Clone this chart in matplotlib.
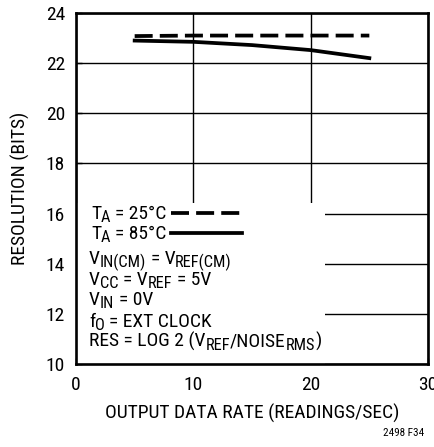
import matplotlib
matplotlib.use("Agg")
import matplotlib.pyplot as plt
from matplotlib.patches import Rectangle
from matplotlib.transforms import IdentityTransform
from matplotlib.font_manager import FontProperties
from matplotlib import font_manager

fams = {f.name for f in font_manager.fontManager.ttflist}
FONT = 'DejaVu Sans'
for cand in ['Liberation Sans Narrow', 'Arial Narrow', 'Roboto Condensed',
             'Archivo Narrow', 'Barlow Semi Condensed', 'Asap Condensed']:
    if cand in fams:
        FONT = cand
        break
plt.rcParams['font.family'] = [FONT, 'DejaVu Sans']

# data
rate = [5, 10, 15, 20, 25]
res_25c = [23.08, 23.1, 23.1, 23.1, 23.1]
res_85c = [22.9, 22.85, 22.72, 22.52, 22.2]
x_ticks = [0, 10, 20, 30]
y_ticks = [10, 12, 14, 16, 18, 20, 22, 24]

W, H = 435, 447
FS_TICK = 14
FS_LABEL = 14
FS_TEXT = 14
LW = 2.7
DASH = (4.8, 1.9)

fig = plt.figure(figsize=(W / 100, H / 100), dpi=100)
ax = fig.add_axes([76 / W, 83 / H, 352 / W, 351 / H])
ax.set_xlim(0, 30)
ax.set_ylim(10, 24)
ax.set_xticks(x_ticks)
ax.set_yticks(y_ticks)
ax.tick_params(direction='in', length=4, width=1, labelsize=FS_TICK)
ax.tick_params(axis='x', pad=9)
ax.tick_params(axis='y', pad=8)
ax.grid(True, color='black', linewidth=1)
ax.set_axisbelow(True)
for s in ax.spines.values():
    s.set_linewidth(1.9)
    s.set_zorder(5)

# white box covering grid in lower-left (behind the notes)
ax.add_patch(Rectangle((0, 10), 21.2, 6.44, facecolor='white', edgecolor='none', zorder=1))

ax.plot(rate, res_25c, color='black', lw=LW, dashes=DASH, zorder=3)
ax.plot(rate, res_85c, color='black', lw=LW, zorder=3)

ax.set_xlabel('OUTPUT DATA RATE (READINGS/SEC)', fontsize=FS_LABEL, labelpad=7)
ax.set_ylabel('RESOLUTION (BITS)', fontsize=FS_LABEL)
ax.yaxis.set_label_coords(-0.13, 0.5)


def yf(py):
    return (364 - py) / 351


def xf(px):
    return (px - 76) / 352


fig.canvas.draw()
renderer = fig.canvas.get_renderer()


def adv(s, size):
    prop = FontProperties(family=[FONT, 'DejaVu Sans'], size=size)
    w1 = renderer.get_text_width_height_descent('|' + s + '|', prop, ismath=False)[0]
    w0 = renderer.get_text_width_height_descent('||', prop, ismath=False)[0]
    return w1 - w0


def rich(x, baseline_px, segs):
    y = H - baseline_px
    for s, sub in segs:
        size = FS_TEXT * 0.84 if sub else FS_TEXT
        yy = y - 3.0 if sub else y
        lead = s[:len(s) - len(s.lstrip(' '))]
        core = s.strip(' ')
        if core:
            fig.text(x + adv(lead, size), yy, core, transform=IdentityTransform(),
                     fontsize=size, va='baseline', ha='left', zorder=6)
        x += adv(s, size)


notes = [
    (91, 219, [('T', False), ('A', True), (' = 25°C', False)]),
    (91, 239, [('T', False), ('A', True), (' = 85°C', False)]),
    (89, 264, [('V', False), ('IN(CM)', True), (' = V', False), ('REF(CM)', True)]),
    (89, 285, [('V', False), ('CC', True), (' = V', False), ('REF', True), (' = 5V', False)]),
    (89, 305, [('V', False), ('IN', True), (' = 0V', False)]),
    (89, 327, [('f', False), ('O', True), (' = EXT CLOCK', False)]),
    (89, 347, [('RES = LOG 2 (V', False), ('REF', True), ('/NOISE', False), ('RMS', True), (')', False)]),
]
for px, py, segs in notes:
    rich(px, py, segs)

ax.plot([xf(171), xf(242)], [yf(213), yf(213)], transform=ax.transAxes,
        color='black', lw=LW, dashes=DASH, zorder=4)
ax.plot([xf(171), xf(242)], [yf(233), yf(233)], transform=ax.transAxes,
        color='black', lw=LW, zorder=4)

fig.text(424 / W, 1 - 433 / H, '2498 F34', fontsize=8, ha='right', va='center')

fig.savefig('out.png', dpi=100)
